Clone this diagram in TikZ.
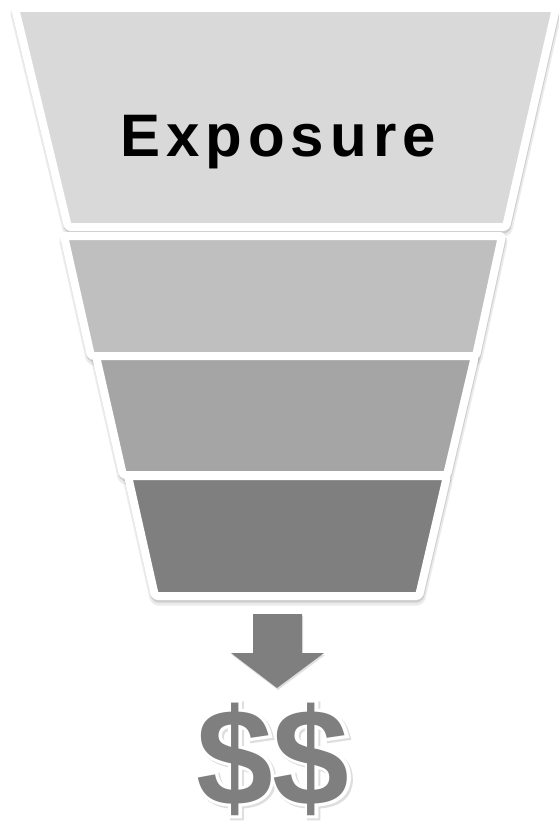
\documentclass[tikz,border=0pt]{standalone}
\usepackage{fontspec}
\setmainfont{Liberation Sans}
\definecolor{funnelA}{HTML}{D9D9D9}
\definecolor{funnelB}{HTML}{BFBFBF}
\definecolor{funnelC}{HTML}{A5A5A5}
\definecolor{funnelD}{HTML}{7F7F7F}

\begin{document}
\begin{tikzpicture}[x=1pt, y=-1pt,
    layer/.style={draw=white, line width=8pt, line join=round, rounded corners=2pt},
    shade/.style={draw=black, fill=black, line width=8pt, line join=round,
                  rounded corners=2pt, opacity=0.12, shift={(0.5,2.5)}},
    label/.style={font=\fontsize{60}{60}\selectfont\bfseries\addfontfeature{LetterSpace=10},
                  anchor=base, inner sep=0pt},
    dollar/.style={font=\fontsize{138}{138}\selectfont\bfseries, anchor=base,
                   inner sep=0pt, text depth=0pt},
    dollarrim/.style={dollar, font=\fontsize{138}{138}\selectfont\bfseries\addfontfeature{FakeBold=4.5}}]
\useasboundingbox (0,0) rectangle (558,832);
% funnel layers, widest on top
\foreach \col/\yt/\yb/\tl/\tr/\br/\bl in {
    funnelA/8/227/15/556/506/68,
    funnelB/236/356/64/502/476/91,
    funnelC/356/475/96/475/447/123,
    funnelD/476/596/128/447/419/155}
{
  \fill[shade] (\tl,\yt) -- (\tr,\yt) -- (\br,\yb) -- (\bl,\yb) -- cycle;
  \draw[shade, opacity=0.08, shift={(0,1.5)}, line width=11pt] (\tl,\yt) -- (\tr,\yt) -- (\br,\yb) -- (\bl,\yb) -- cycle;
  \draw[layer, fill=\col] (\tl,\yt) -- (\tr,\yt) -- (\br,\yb) -- (\bl,\yb) -- cycle;
}
% top label
\node[label] (exposure) at (278,156) {Exposure};
% arrow down to the money
\fill[black, opacity=0.12] (254,616) -- (303,616) -- (303,655) -- (325,655) -- (278,690) -- (232,655) -- (254,655) -- cycle;
\fill[funnelD] (253,614) -- (302,614) -- (302,653) -- (324,653) -- (277,688) -- (231,653) -- (253,653) -- cycle;
% dollars with white rim and soft shadow
\node[dollarrim, text=black!13] (moneyshade) at (275,807) {\$\$};
\node[dollarrim, text=white] (moneyrim) at (273,805) {\$\$};
\node[dollar, text=funnelD] (money) at (273,805) {\$\$};
\end{tikzpicture}
\end{document}
